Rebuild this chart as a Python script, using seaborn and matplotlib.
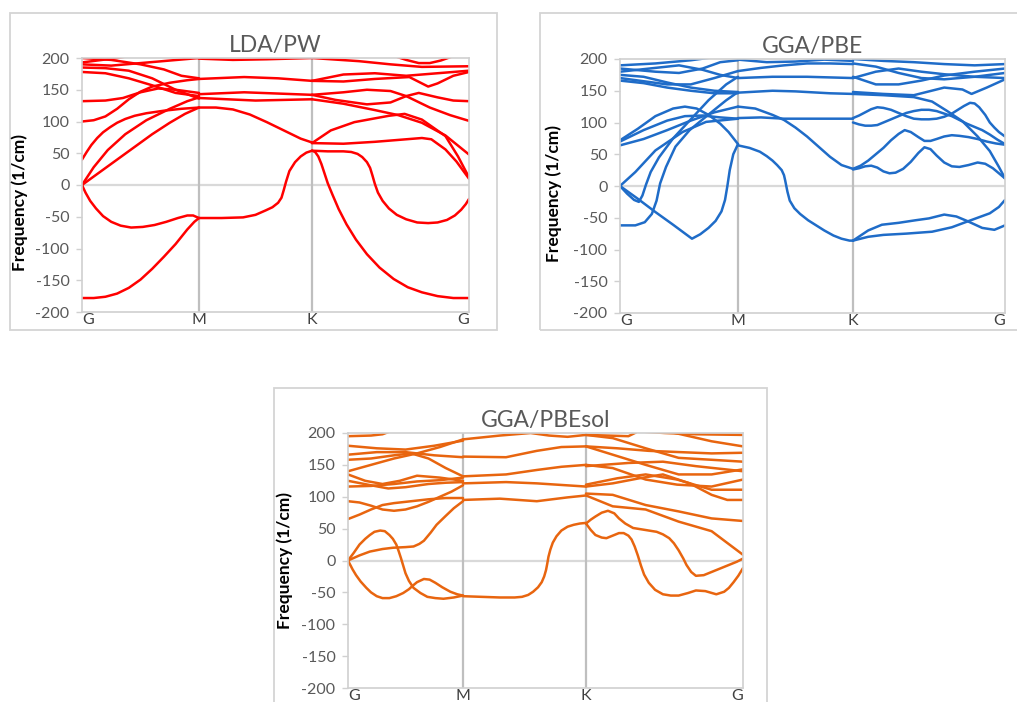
import numpy as np
import pandas as pd
import matplotlib
matplotlib.use("Agg")
import matplotlib.pyplot as plt
import seaborn as sns
from matplotlib.patches import Rectangle

# ---------------- data (x = fraction along each path segment, y = frequency 1/cm) -------------
path_labels = ["G", "M", "K", "G"]
y_ticks = [-200, -150, -100, -50, 0, 50, 100, 150, 200]

# LDA/PW
lda_GM = [
    ([0, .03, .07, .12, .18, .25, .33, .42, .52, .62, .72, .82, .9, .95, 1],
     [0, -12, -25, -37, -49, -58, -64, -67, -66, -63, -58, -52, -48, -48, -52]),
    ([0, .1, .2, .3, .4, .5, .6, .7, .8, .9, .96, 1], [-178, -178, -176, -171, -162, -149, -132, -113, -93, -70, -58, -52]),
    ([0, .15, .3, .45, .6, .75, .88, 1], [0, 20, 40, 60, 80, 98, 112, 122]),
    ([0, .1, .22, .37, .55, .75, .9, 1], [0, 28, 55, 80, 102, 120, 132, 138]),
    ([0, .04, .08, .13, .18, .24, .3, .37, .45, .55, .7, .85, 1], [40, 52, 63, 74, 83, 91, 98, 104, 109, 113, 117, 120, 122]),
    ([0, .1, .2, .3, .4, .5, .6, .75, .9, 1], [100, 102, 108, 120, 135, 147, 155, 161, 165, 167]),
    ([0, .2, .35, .5, .65, .8, 1], [132, 133, 137, 146, 152, 150, 145]),
    ([0, .2, .4, .6, .8, 1], [178, 176, 168, 157, 145, 140]),
    ([0, .2, .4, .6, .8, 1], [185, 184, 180, 168, 150, 136]),
    ([0, .25, .5, .75, 1], [190, 188, 192, 196, 200]),
    ([0, .25, .5, .7, .85, 1], [200, 197, 190, 182, 172, 168]),
    ([0, .3, .5, .8, 1], [193, 200, 206, 203, 200]),
]
lda_MK = [
    ([0, .3, .6, 1], [199, 197, 198, 200]),
    ([0, .4, .7, 1], [167, 170, 168, 164]),
    ([0, .4, 1], [143, 146, 142]),
    ([0, .5, 1], [137, 133, 135]),
    ([0, .15, .3, .45, .6, .75, .9, 1], [122, 122, 119, 111, 99, 86, 73, 67]),
    ([0, .2, .39, .5, .59, .65, .7, .73, .75, .77, .8, .85, .9, .95, 1],
     [-52, -52, -51, -47, -40, -35, -28, -20, -8, 5, 22, 36, 45, 51, 54]),
]
lda_KG = [
    ([0, .1, .2, .25, .29, .32, .35, .37, .385, .4, .42, .45, .49, .54, .6, .67, .74, .8, .86, .91, .95, .98, 1],
     [54, 53, 53, 52, 49, 44, 36, 27, 15, 2, -12, -25, -37, -47, -54, -59, -60, -59, -55, -48, -39, -30, -22]),
    ([0, .02, .04, .06, .08, .1, .13, .17, .22, .28, .35, .43, .52, .61, .7, .8, .9, 1],
     [54, 52, 45, 33, 18, 3, -15, -38, -62, -86, -109, -130, -148, -161, -169, -175, -178, -178]),
    ([0, .2, .4, .6, .7, .76, .85, .92, 1], [66, 65, 68, 72, 74, 72, 56, 37, 10]),
    ([0, .12, .27, .49, .59, .7, .85, .93, 1], [66, 86, 99, 109, 112, 103, 77, 45, 12]),
    ([0, .2, .4, .55, .7, .85, 1], [135, 128, 118, 110, 98, 78, 48]),
    ([0, .15, .35, .5, .6, .68, .8, .9, 1], [142, 134, 127, 130, 140, 145, 138, 133, 132]),
    ([0, .2, .35, .5, .6, .75, .88, 1], [142, 146, 150, 148, 140, 122, 110, 101]),
    ([0, .2, .4, .6, .8, 1], [164, 174, 176, 172, 176, 180]),
    ([0, .2, .4, .62, .7, .74, .8, .9, 1], [164, 163, 167, 170, 160, 155, 160, 172, 178]),
    ([0, .3, .5, .7, 1], [200, 195, 190, 186, 187]),
    ([.5, .6, .68, .75, .82, .9], [205, 197, 192, 192, 196, 203]),
]

# GGA/PBE
pbe_GM = [
    ([0, .15, .3, .45, .61, .68, .75, .81, .86, .89, .91, .93, .96, 1],
     [0, -20, -41, -61, -83, -76, -66, -55, -40, -22, 0, 25, 50, 66]),
    ([0, .06, .12, .16, .19, .22, .26, .33, .45, .6, .75, .9, 1],
     [0, -12, -22, -25, -15, 2, 22, 45, 75, 105, 135, 160, 172]),
    ([0, .13, .21, .27, .31, .34, .39, .47, .59, .76, .9, 1],
     [-62, -62, -57, -44, -23, 4, 30, 62, 88, 114, 135, 148]),
    ([0, .15, .3, .45, .55, .65, .75, .85, .92, 1], [72, 90, 110, 122, 125, 122, 112, 98, 85, 66]),
    ([0, .2, .4, .55, .7, .85, 1], [70, 88, 103, 110, 111, 108, 106]),
    ([0, .2, .4, .6, .8, 1], [64, 74, 88, 103, 116, 125]),
    ([0, .13, .3, .53, .73, 1], [0, 22, 56, 85, 101, 106]),
    ([0, .3, .6, .8], [190, 193, 198, 203]),
    ([0, .3, .5, .7, .85, 1], [185, 180, 178, 185, 195, 198]),
    ([0, .3, .5, .7, .85, 1], [180, 186, 190, 183, 175, 170]),
    ([0, .2, .4, .6, .8, 1], [175, 172, 163, 155, 150, 148]),
    ([0, .2, .4, .6, .8, 1], [170, 165, 160, 160, 170, 181]),
    ([0, .2, .4, .6, .8, 1], [166, 162, 155, 150, 146, 146]),
]
pbe_MK = [
    ([0, .25, .5, .75, 1], [199, 195, 196, 199, 197]),
    ([0, .2, .4, .6, .8, 1], [181, 186, 190, 193, 193, 192]),
    ([0, .3, .6, 1], [170, 172, 172, 170]),
    ([0, .3, .5, .8, 1], [147, 150, 149, 146, 145]),
    ([0, .2, .4, .7, 1], [107, 108, 106, 106, 106]),
    ([0, .15, .3, .4, .5, .6, .7, .8, .9, 1], [125, 122, 112, 104, 92, 78, 62, 46, 33, 27]),
    ([0, .1, .19, .25, .3, .34, .38, .4, .41, .42, .43, .45, .49, .54, .61, .68, .75, .83, .9, .97, 1],
     [64, 60, 54, 47, 40, 33, 25, 17, 9, 0, -9, -23, -35, -44, -54, -62, -70, -78, -83, -86, -86]),
]
pbe_KG = [
    ([0, .1, .19, .3, .41, .5, .6, .68, .75, .85, .93, 1], [-86, -70, -61, -58, -54, -51, -45, -48, -55, -66, -69, -62]),
    ([0, .1, .2, .35, .52, .65, .74, .82, .9, .96, 1], [-86, -80, -77, -75, -72, -65, -57, -50, -43, -33, -22]),
    ([0, .04, .08, .12, .16, .2, .24, .28, .33, .38, .43, .47, .51, .55, .6, .65, .7, .76, .82, .87, .92, .96, 1],
     [26, 28, 31, 32, 29, 23, 20, 21, 27, 38, 52, 61, 58, 48, 37, 31, 30, 33, 37, 35, 28, 20, 12]),
    ([0, .05, .1, .15, .2, .25, .3, .34, .38, .43, .47, .51, .55, .6, .65, .7, .76, .82, .88, .94, 1],
     [27, 32, 40, 50, 60, 72, 82, 88, 85, 77, 71, 71, 74, 78, 80, 79, 77, 74, 70, 67, 65]),
    ([0, .04, .08, .12, .16, .2, .25, .3, .35, .4, .45, .5, .55, .6, .65, .69, .73, .77, .8, .83, .87, .9, .93, .96, 1],
     [107, 111, 116, 121, 124, 123, 120, 115, 110, 106, 105, 105, 106, 109, 114, 120, 126, 131, 130, 124, 112, 100, 92, 85, 78]),
    ([0, .04, .08, .12, .16, .2, .25, .3, .35, .4, .45, .5, .55, .6, .65, .7, .75, .8, .85, .9, .95, 1],
     [100, 97, 95, 95, 96, 100, 105, 110, 115, 118, 120, 120, 118, 114, 110, 104, 98, 93, 88, 81, 73, 66]),
    ([0, .2, .4, .52, .62, .72, .82, .9, .96, 1], [145, 143, 140, 133, 118, 102, 78, 55, 30, 12]),
    ([0, .2, .4, .6, .8, 1], [200, 197, 195, 192, 190, 192]),
    ([0, .15, .3, .45, .6, .8, 1], [193, 188, 178, 170, 168, 172, 178]),
    ([0, .15, .3, .45, .6, .8, 1], [172, 160, 160, 166, 174, 180, 185]),
    ([0, .15, .3, .45, .6, .8, 1], [170, 180, 185, 180, 176, 172, 170]),
    ([0, .2, .4, .6, .72, .78, .88, 1], [148, 145, 143, 155, 152, 145, 155, 168]),
]

# GGA/PBEsol
sol_GM = [
    ([0, .04, .07, .11, .16, .2, .25, .3, .36, .42, .48, .53, .56, .6, .66, .71, .76, .82, .89, .95, 1],
     [0, -14, -23, -33, -43, -50, -56, -59, -59, -56, -51, -45, -40, -34, -29, -30, -35, -42, -49, -53, -55]),
    ([0, .05, .1, .15, .19, .23, .28, .32, .36, .39, .42, .44, .46, .48, .5, .53, .57, .63, .69, .76, .83, .92, 1],
     [0, 12, 25, 34, 40, 45, 47, 46, 40, 34, 25, 15, 4, -8, -20, -32, -43, -51, -57, -59, -60, -58, -55]),
    ([0, .1, .19, .3, .39, .5, .57, .62, .66, .72, .77, .85, .92, 1], [0, 8, 14, 18, 20, 21, 22, 26, 31, 44, 56, 70, 82, 93]),
    ([0, .1, .2, .3, .4, .55, .7, .85, 1], [65, 72, 80, 87, 90, 93, 96, 98, 98]),
    ([0, .1, .2, .3, .4, .5, .6, .7, .8, .9, 1], [93, 91, 86, 80, 78, 80, 85, 92, 100, 108, 118]),
    ([0, .2, .3, .36], [195, 196, 198, 202]),
    ([0, .25, .5, .75, 1], [180, 176, 174, 180, 188]),
    ([0, .25, .5, .75, 1], [166, 170, 170, 165, 162]),
    ([0, .2, .4, .55, .7, .85, 1], [158, 160, 165, 168, 160, 145, 132]),
    ([0, .2, .4, .6, .8, 1], [140, 150, 160, 168, 178, 190]),
    ([0, .15, .3, .45, .6, .8, 1], [135, 125, 120, 125, 133, 130, 125]),
    ([0, .2, .35, .5, .7, .85, 1], [125, 118, 113, 115, 120, 122, 123]),
    ([0, .2, .4, .6, .8, 1], [116, 117, 120, 124, 126, 130]),
]
sol_MK = [
    ([0, .3, .55, .7, .85, 1], [190, 196, 200, 196, 194, 197]),
    ([0, .35, .6, .8, 1], [163, 162, 172, 178, 179]),
    ([0, .35, .6, .8, 1], [132, 135, 142, 147, 150]),
    ([0, .35, .6, 1], [121, 123, 121, 116]),
    ([0, .3, .6, .85, 1], [95, 97, 93, 99, 102]),
    ([0, .15, .3, .42, .48, .53, .57, .61, .64, .66, .675, .685, .695, .71, .73, .76, .8, .85, .9, .95, 1],
     [-56, -57, -58, -58, -57, -54, -49, -42, -34, -25, -15, -5, 6, 17, 28, 38, 47, 53, 56, 58, 59]),
]
sol_KG = [
    ([0, .03, .06, .1, .13, .17, .21, .24, .27, .29, .31, .33, .35, .37, .4, .44, .49, .54, .59, .65, .7, .76, .83, .88, .91, .94, .97, 1],
     [58, 48, 40, 36, 35, 39, 43, 43, 39, 33, 22, 8, -8, -22, -35, -46, -53, -55, -55, -51, -47, -48, -53, -49, -43, -34, -24, -12]),
    ([0, .03, .06, .1, .14, .18, .21, .25, .3, .35, .4, .45, .49, .53, .56, .59, .62, .64, .67, .7, .75, .81, .86, .91, .96, 1],
     [58, 64, 69, 75, 78, 74, 66, 58, 51, 49, 47, 45, 41, 35, 27, 16, 3, -7, -18, -24, -23, -17, -12, -7, -2, 3]),
    ([0, .17, .38, .59, .8, 1], [102, 85, 80, 61, 46, 9]),
    ([0, .17, .38, .59, .8, 1], [105, 103, 87, 77, 66, 62]),
    ([0, .17, .34, .49, .66, .8, .9, 1], [116, 121, 129, 135, 121, 103, 95, 95]),
    ([0, .2, .38, .58, .8, 1], [119, 129, 135, 127, 111, 111]),
    ([0, .17, .38, .58, .8, 1], [150, 145, 127, 119, 116, 127]),
    ([0, .27, .49, .7, 1], [148, 153, 155, 148, 140]),
    ([0, .17, .38, .59, .8, 1], [179, 166, 150, 135, 135, 143]),
    ([0, .17, .38, .59, .8, 1], [197, 192, 176, 161, 158, 155]),
    ([0, .27, .32], [197, 195, 201]),
    ([.55, .8, 1], [201, 187, 179]),
    ([.3, .5, .7, 1], [203, 200, 198, 197]),
    ([0, .2, .4, .6, .8, 1], [179, 176, 172, 170, 168, 169]),
]

# ---------------- figure ----------------
sns.set_theme(style="white")
plt.rcParams["font.family"] = ["Lato", "DejaVu Sans"]
plt.rcParams["axes.unicode_minus"] = False

W, H = 1017, 702
fig = plt.figure(figsize=(W / 100, H / 100), dpi=100)
fig.patch.set_facecolor("white")


def px_rect(x0, y0, x1, y1):
    return [x0 / W, 1 - y1 / H, (x1 - x0) / W, (y1 - y0) / H]


def panel(ax_px, box_px, title, color, segs, ticks, ylab_xy):
    bx = px_rect(*box_px)
    fig.add_artist(Rectangle((bx[0], bx[1]), bx[2], bx[3], transform=fig.transFigure,
                             fill=False, ec="#d4d4d4", lw=1.3, zorder=0))
    ax = fig.add_axes(px_rect(*ax_px))
    rows = []
    for s, seg in enumerate(segs):
        for c, (fx, fy) in enumerate(seg):
            xs = np.interp(s + np.asarray(fx, float), [0, 1, 2, 3], ticks)
            for x, y in zip(xs, fy):
                rows.append((f"{s}-{c}", x, y))
    df = pd.DataFrame(rows, columns=["band", "q", "freq"])
    ax.axhline(0, color="#d9d9d9", lw=1.6, zorder=0)
    for t in ticks[1:3]:
        ax.axvline(t, color="#bfbfbf", lw=1.6, zorder=0)
    sns.lineplot(data=df, x="q", y="freq", units="band", estimator=None, sort=False,
                 color=color, lw=1.8, ax=ax, legend=False)
    ax.set_xlim(ticks[0], ticks[-1])
    ax.set_ylim(-200, 200)
    ax.set_yticks(y_ticks)
    ax.set_yticklabels([str(v) for v in y_ticks], color="#595959", fontsize=11.5)
    ax.set_xticks(ticks)
    ax.set_xticklabels(path_labels, color="#404040", fontsize=11.5)
    xl = ax.get_xticklabels()
    xl[0].set_ha("left")
    xl[-1].set_ha("right")
    ax.tick_params(axis="x", length=0, pad=1)
    ax.tick_params(axis="y", left=True, length=4, color="#d0d0d0", width=1, pad=5)
    for sp in ax.spines.values():
        sp.set_color("#d0d0d0")
        sp.set_linewidth(1.2)
    ax.set_xlabel("")
    ax.set_ylabel("Frequency (1/cm)", fontsize=12.5, fontweight="bold", color="black")
    ax.yaxis.set_label_coords(*ylab_xy)
    ax.set_title(title, fontsize=16.5, color="#595959", pad=4)
    return ax


panel((82, 58, 469, 312), (10, 13, 497, 330), "LDA/PW", "#ff0000",
      [lda_GM, lda_MK, lda_KG], [0, 117, 230, 387], (-0.14, 0.43))
panel((620, 59, 1005, 313), (540, 13, 1040, 330), "GGA/PBE", "#1f6cc8",
      [pbe_GM, pbe_MK, pbe_KG], [0, 118, 233, 385], (-0.15, 0.47))
panel((348, 433, 743, 688), (274, 388, 767, 720), "GGA/PBEsol", "#e8650f",
      [sol_GM, sol_MK, sol_KG], [0, 115, 238, 395], (-0.139, 0.50))

fig.savefig("out.png", dpi=100, facecolor="white")
